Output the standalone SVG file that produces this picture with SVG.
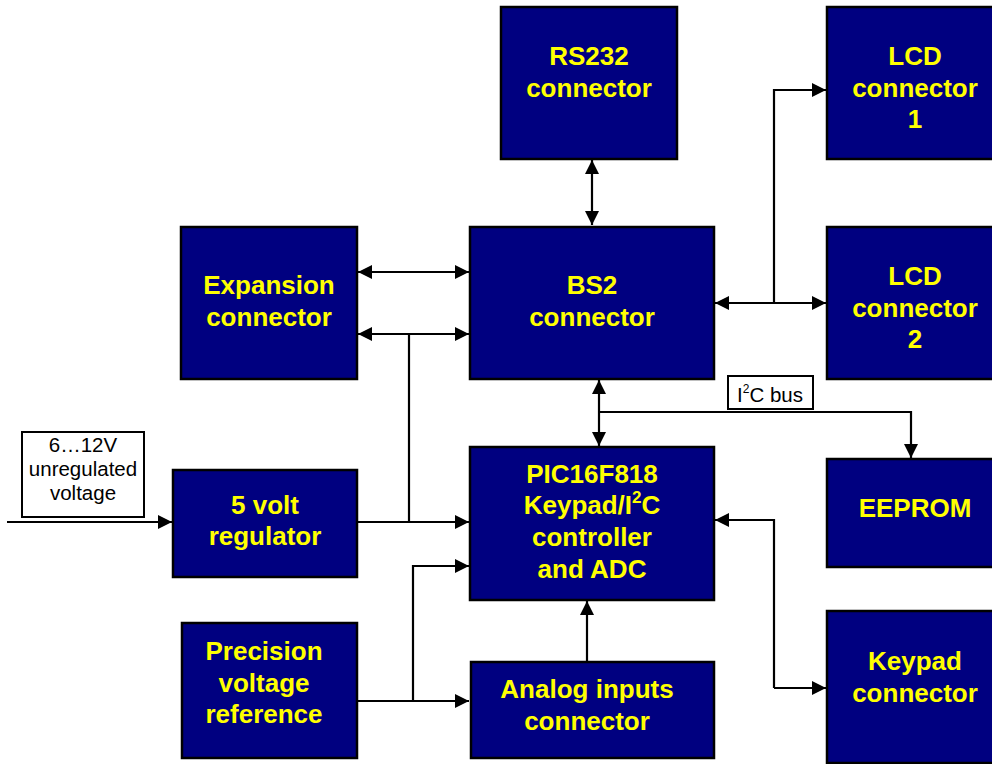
<svg xmlns="http://www.w3.org/2000/svg" width="992" height="764" viewBox="0 0 992 764">
<style>
.box{fill:#000080;stroke:#000;stroke-width:2.5}
.t{font-family:"Liberation Sans",Arial,sans-serif;font-weight:bold;font-size:26px;fill:#FFFF00;text-anchor:middle}
.lbl{fill:#fff;stroke:#000;stroke-width:2}
.lt{font-family:"Liberation Sans",Arial,sans-serif;font-size:20.5px;fill:#000;text-anchor:middle}
.c{fill:none;stroke:#000;stroke-width:2.2}
.a{marker-end:url(#ah)}
.aa{marker-end:url(#ah);marker-start:url(#ah)}
</style>
<defs>
<marker id="ah" markerUnits="userSpaceOnUse" markerWidth="16" markerHeight="16" viewBox="0 0 16 16" refX="15" refY="8" orient="auto-start-reverse">
<path d="M1,1 L15,8 L1,15 Z" fill="#000"/>
</marker>
</defs>
<rect width="992" height="764" fill="#fff"/>
<g id="connectors">
<path class="c aa" d="M592,160 V225"/>
<path class="c aa" d="M358,272 H469"/>
<path class="c aa" d="M358,334 H469"/>
<path class="c" d="M409,334 V522"/>
<path class="c a" d="M358,522 H469"/>
<path class="c a" d="M7,522 H172"/>
<path class="c a" d="M358,701 H469"/>
<path class="c a" d="M413,701 V566 H469"/>
<path class="c a" d="M587,662 V601"/>
<path class="c aa" d="M715,303 H826"/>
<path class="c a" d="M774,303 V90 H826"/>
<path class="c aa" d="M599,380 V446"/>
<path class="c a" d="M599,412 H911 V458"/>
<path class="c a" d="M774,688 V520 H715"/>
<path class="c a" d="M774,688 H826"/>
</g>
<g id="rs232"><rect class="box" x="501" y="7" width="176" height="152"/><text class="t" x="589" y="65">RS232</text><text class="t" x="589" y="97">connector</text></g>
<g id="lcd1"><rect class="box" x="827" y="7" width="176" height="152"/><text class="t" x="915" y="65">LCD</text><text class="t" x="915" y="97">connector</text><text class="t" x="915" y="128">1</text></g>
<g id="expansion"><rect class="box" x="181" y="227" width="176" height="152"/><text class="t" x="269" y="294">Expansion</text><text class="t" x="269" y="326">connector</text></g>
<g id="bs2"><rect class="box" x="470" y="227" width="244" height="152"/><text class="t" x="592" y="294">BS2</text><text class="t" x="592" y="326">connector</text></g>
<g id="lcd2"><rect class="box" x="827" y="227" width="176" height="152"/><text class="t" x="915" y="285">LCD</text><text class="t" x="915" y="317">connector</text><text class="t" x="915" y="348">2</text></g>
<g id="pic"><rect class="box" x="470" y="447" width="244" height="153"/><text class="t" x="592" y="483">PIC16F818</text><text class="t" x="592" y="514">Keypad/I<tspan font-size="17" dy="-11">2</tspan><tspan dy="11">C</tspan></text><text class="t" x="592" y="546">controller</text><text class="t" x="592" y="578">and ADC</text></g>
<g id="eeprom"><rect class="box" x="827" y="459" width="176" height="108"/><text class="t" x="915" y="517">EEPROM</text></g>
<g id="regulator"><rect class="box" x="173" y="470" width="184" height="107"/><text class="t" x="265" y="514">5 volt</text><text class="t" x="265" y="545">regulator</text></g>
<g id="precision"><rect class="box" x="182" y="623" width="175" height="135"/><text class="t" x="264" y="660">Precision</text><text class="t" x="264" y="692">voltage</text><text class="t" x="264" y="723">reference</text></g>
<g id="analog"><rect class="box" x="471" y="662" width="243" height="96"/><text class="t" x="587" y="698">Analog inputs</text><text class="t" x="587" y="730">connector</text></g>
<g id="keypad"><rect class="box" x="827" y="611" width="176" height="152"/><text class="t" x="915" y="670">Keypad</text><text class="t" x="915" y="702">connector</text></g>
<g id="input-label"><rect class="lbl" x="22" y="432" width="122" height="85"/><text class="lt" x="83" y="452">6…12V</text><text class="lt" x="83" y="476">unregulated</text><text class="lt" x="83" y="500">voltage</text></g>
<g id="i2c-label"><rect class="lbl" x="728" y="376" width="85" height="33"/><text class="lt" x="770" y="402">I<tspan font-size="12" dy="-9">2</tspan><tspan dy="9">C bus</tspan></text></g>
</svg>
